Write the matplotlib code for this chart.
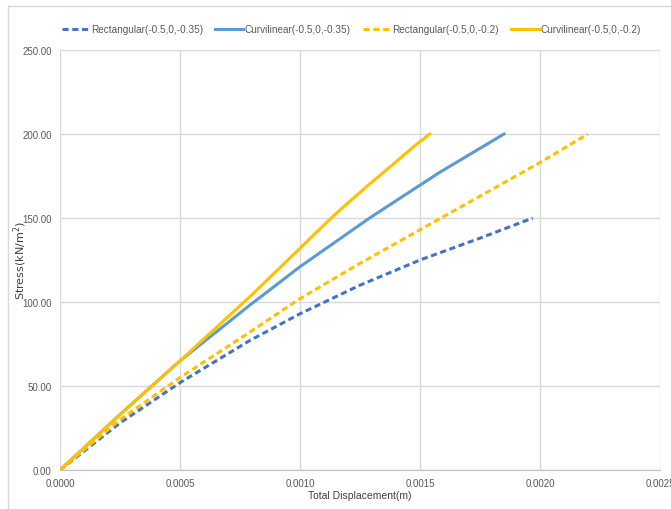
import matplotlib
matplotlib.use("Agg")
import matplotlib.pyplot as plt
from matplotlib.lines import Line2D
from matplotlib.ticker import FormatStrFormatter, MultipleLocator

plt.rcParams['font.family'] = ['Liberation Sans', 'DejaVu Sans']

# data
rect_035_x = [0, 0.00025, 0.0005, 0.00079, 0.001, 0.00125, 0.0015, 0.00175, 0.00197]
rect_035_y = [0, 28, 52, 77, 93, 110, 125, 138, 150]

curv_035_x = [0, 0.00025, 0.0005, 0.00079, 0.001, 0.00115, 0.00129, 0.00158, 0.00185]
curv_035_y = [0, 33, 65, 98, 121, 136, 150, 177, 200]

rect_02_x = [0, 0.00025, 0.0005, 0.00079, 0.001, 0.00125, 0.0015, 0.00175, 0.002, 0.0022]
rect_02_y = [0, 30, 55, 82, 102, 123, 143, 163, 183, 200]

curv_02_x = [0, 0.00025, 0.0005, 0.00079, 0.001, 0.00113, 0.0012, 0.00128, 0.00138, 0.00147, 0.00154]
curv_02_y = [0, 33, 65, 103, 132, 150, 159, 169, 181, 192, 200]

labels = ['Rectangular(-0.5,0,-0.35)', 'Curvilinear(-0.5,0,-0.35)',
          'Rectangular(-0.5,0,-0.2)', 'Curvilinear(-0.5,0,-0.2)']

fig = plt.figure(figsize=(6.71, 5.10), dpi=100)
ax = fig.add_axes([60 / 671, 39 / 510, 600 / 671, 420 / 510])

ax.plot(rect_035_x, rect_035_y, color='#4472C4', lw=2.2, ls=(0, (2, 1.2)), label=labels[0])
ax.plot(curv_035_x, curv_035_y, color='#5B9BD5', lw=2.2, label=labels[1])
ax.plot(rect_02_x, rect_02_y, color='#FFC000', lw=2.2, ls=(0, (2, 1.2)), label=labels[2])
ax.plot(curv_02_x, curv_02_y, color='#FFC000', lw=2.2, label=labels[3])

ax.set_xlim(0, 0.0025)
ax.set_ylim(0, 250)
ax.xaxis.set_major_locator(MultipleLocator(0.0005))
ax.yaxis.set_major_locator(MultipleLocator(50))
ax.xaxis.set_major_formatter(FormatStrFormatter('%.4f'))
ax.yaxis.set_major_formatter(FormatStrFormatter('%.2f'))
ax.grid(True, color='#d9d9d9', lw=1)
ax.set_axisbelow(True)
for s in ['top', 'right', 'left']:
    ax.spines[s].set_visible(False)
ax.spines['bottom'].set_color('#bfbfbf')
ax.tick_params(length=0, labelsize=7, labelcolor='#595959', pad=6)

ax.set_xlabel('Total Displacement(m)', fontsize=7.5, color='#404040', labelpad=1)
ax.set_ylabel('Stress(kN/m$^2$)', fontsize=8, color='#404040', family='DejaVu Sans', labelpad=-5)

ax.legend(loc='center', bbox_to_anchor=(0.485, 1.05), ncol=4, frameon=False,
          fontsize=7.2, handlelength=2.8, columnspacing=1.2, handletextpad=0.15,
          labelcolor='#595959')

# outer chart border (cropped in the reference)
fig.add_artist(Line2D([8 / 671, 8 / 671], [0, 503 / 510], color='#d9d9d9', lw=1))
fig.add_artist(Line2D([8 / 671, 1], [503 / 510, 503 / 510], color='#d9d9d9', lw=1))

fig.savefig('out.png', dpi=100)
